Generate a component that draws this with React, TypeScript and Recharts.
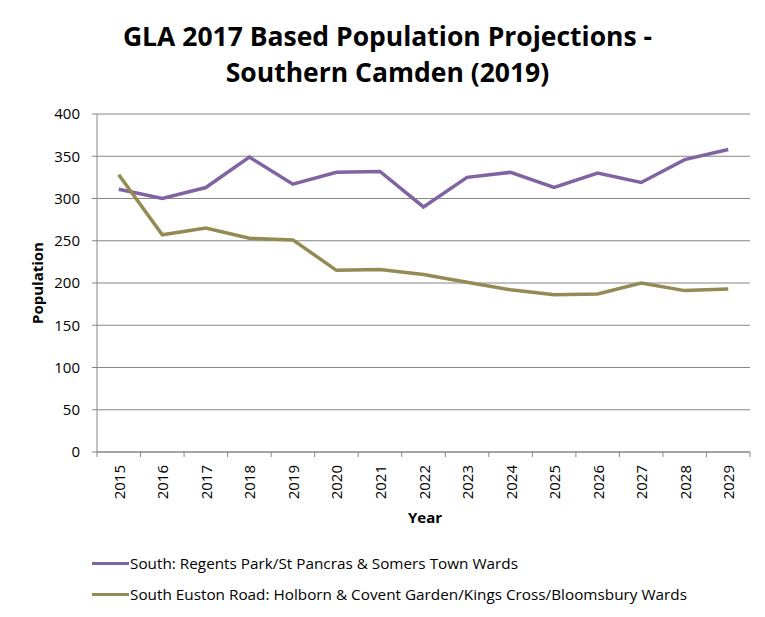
import { LineChart, Line, XAxis, YAxis, CartesianGrid } from "recharts"

const years = ["2015", "2016", "2017", "2018", "2019", "2020", "2021", "2022", "2023", "2024", "2025", "2026", "2027", "2028", "2029"]
const southRegents = [311, 300, 313, 349, 317, 331, 332, 290, 325, 331, 313, 330, 319, 346, 358]
const southEuston = [328, 257, 265, 253, 251, 215, 216, 210, 201, 192, 186, 187, 200, 191, 193]
const yTicks = [0, 50, 100, 150, 200, 250, 300, 350, 400]

const seriesNames = [
  "South: Regents Park/St Pancras & Somers Town Wards",
  "South Euston Road: Holborn & Covent Garden/Kings Cross/Bloomsbury Wards",
]
const colors = ["#8064a2", "#948a54"]

const data = years.map((y, i) => ({ year: y, a: southRegents[i], b: southEuston[i] }))

const font = "'Open Sans', 'Noto Sans', sans-serif"
const axisGray = "#868686"
const plotLeft = 97
const plotRight = 750
const band = (plotRight - plotLeft) / years.length

function YearTick(props: any) {
  const { x, y, payload, index } = props
  const left = x - band / 2
  return (
    <g>
      <line x1={left} x2={left} y1={y - 8} y2={y - 3} stroke={axisGray} />
      {index === years.length - 1 && (
        <line x1={left + band} x2={left + band} y1={y - 8} y2={y - 3} stroke={axisGray} />
      )}
      <text
        x={0}
        y={0}
        transform={`translate(${x},${y + 5}) rotate(-90)`}
        textAnchor="end"
        dominantBaseline="central"
        fontSize={15}
        fontFamily={font}
        fill="#000"
      >
        {payload.value}
      </text>
    </g>
  )
}

export default function App() {
  return (
    <div
      style={{
        position: "relative",
        margin: -8,
        width: 765,
        height: 617,
        background: "#fff",
        overflow: "hidden",
        fontFamily: font,
      }}
    >
      <div style={{ position: "absolute", left: 5, top: 1, width: 2, height: 617, background: "#000" }} />
      <div style={{ position: "absolute", left: 5, top: 1, width: 760, height: 2, background: "#000" }} />

      <div
        style={{
          position: "absolute",
          left: 0,
          top: 18,
          width: 775,
          textAlign: "center",
          fontSize: 26.5,
          fontWeight: 700,
          lineHeight: "36px",
          color: "#000",
        }}
      >
        GLA 2017 Based Population Projections -<br />Southern Camden (2019)
      </div>

      <div style={{ position: "absolute", left: 0, top: 0 }}>
        <LineChart width={765} height={617} data={data} margin={{ top: 114, right: 15, left: 37, bottom: 95 }}>
          <CartesianGrid vertical={false} stroke={axisGray} strokeWidth={1} />
          <XAxis
            dataKey="year"
            interval={0}
            height={70}
            padding={{ left: band / 2, right: band / 2 }}
            axisLine={{ stroke: axisGray }}
            tickLine={false}
            tick={<YearTick />}
          />
          <YAxis
            domain={[0, 400]}
            ticks={yTicks}
            width={60}
            axisLine={{ stroke: axisGray }}
            tickLine={{ stroke: axisGray }}
            tickSize={5}
            tickMargin={12}
            tick={{ fontSize: 15, fontFamily: font, fill: "#000" }}
          />
          <Line dataKey="a" name={seriesNames[0]} stroke={colors[0]} strokeWidth={3.5} dot={false} isAnimationActive={false} />
          <Line dataKey="b" name={seriesNames[1]} stroke={colors[1]} strokeWidth={3.5} dot={false} isAnimationActive={false} />
        </LineChart>
      </div>

      <div
        style={{
          position: "absolute",
          left: 37,
          top: 283,
          transform: "translate(-50%, -50%) rotate(-90deg)",
          fontSize: 15,
          fontWeight: 700,
          whiteSpace: "nowrap",
        }}
      >
        Population
      </div>
      <div
        style={{
          position: "absolute",
          left: 425,
          top: 517,
          transform: "translate(-50%, -50%)",
          fontSize: 15,
          fontWeight: 700,
        }}
      >
        Year
      </div>

      {seriesNames.map((name, i) => (
        <div
          key={name}
          style={{
            position: "absolute",
            left: 92,
            top: 563 + i * 31,
            transform: "translateY(-50%)",
            display: "flex",
            alignItems: "center",
            fontSize: 15.3,
            whiteSpace: "nowrap",
          }}
        >
          <span style={{ display: "inline-block", width: 37, height: 3, background: colors[i], marginRight: 1 }} />
          {name}
        </div>
      ))}
    </div>
  )
}
